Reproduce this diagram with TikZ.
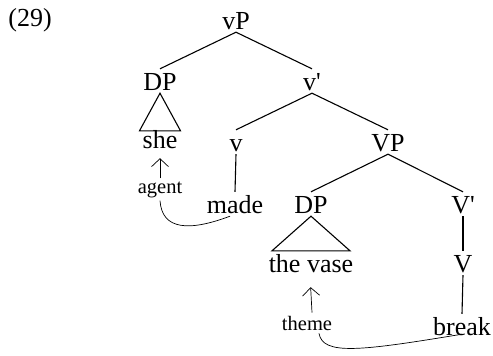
\documentclass[tikz,border=0pt]{standalone}
\usepackage{fontspec}
\setmainfont{Liberation Serif}
\usepackage{tikz}
\usetikzlibrary{calc, arrows.meta}

\tikzset{
  cat/.style={font=\fontsize{26}{30}\selectfont, inner sep=3pt,
              text height=18pt, text depth=0pt, anchor=base},
  role/.style={font=\fontsize{20.5}{24}\selectfont, inner sep=3pt, anchor=base},
  branch/.style={line width=1.1pt},
  link/.style={line width=0.7pt},
  points/.style={link, -{Straight Barb[length=8pt,width=17pt]}}
}

\begin{document}
\begin{tikzpicture}[x=1pt, y=-1pt]
    \useasboundingbox (0,0) rectangle (493,356);

    % tree
    \node[cat] (ex)    at (30,27)   {(29)};
    \node[cat] (vP)    at (236,29)  {vP};
    \node[cat] (DPa)   at (160,90)  {DP};
    \node[cat] (vbar)  at (312,90)  {v\textquotesingle};
    \node[cat] (she)   at (160,148) {she};
    \node[cat] (vhead) at (236,151) {v};
    \node[cat] (VP)    at (388,151) {VP};
    \node[cat] (made)  at (235,213) {made};
    \node[cat] (DPb)   at (311,213) {DP};
    \node[cat] (Vbar)  at (463,213) {V\textquotesingle};
    \node[cat] (vase)  at (311,272) {the vase};
    \node[cat] (Vhead) at (463,272) {V};
    \node[cat] (break) at (462,335) {break};

    % role labels
    \node[role] (agent) at (160,193) {agent};
    \node[role] (theme) at (307,330) {theme};

    \draw[branch] (vP.south) -- (DPa.north);
    \draw[branch] (vP.south) -- (vbar.north);
    \draw[branch] (vbar.south) -- (vhead.north);
    \draw[branch] (vbar.south) -- (VP.north);
    \draw[branch] (vhead.south) -- (made.north);
    \draw[branch] (VP.south) -- (DPb.north);
    \draw[branch] (VP.south) -- (Vbar.north);
    \draw[branch] (Vbar.south) -- (Vhead.north);
    \draw[branch] (Vhead.south) -- (break.north);

    % triangles
    \draw[branch] (DPa.south) -- ($(she.north)+(-20.5,4)$) -- ($(she.north)+(20.5,4)$) -- cycle;
    \draw[branch] (DPb.south) -- ($(vase.north)+(-39,0)$) -- ($(vase.north)+(39,0)$) -- cycle;

    % theta roles
    \draw[points, shorten >=7pt] (agent.north) -- (she.south);
    \draw[points, shorten >=12pt] ([xshift=5pt]theme.north) -- ([xshift=-1pt]vase.south);
    \draw[link] ([xshift=-5pt]made.south) .. controls +(-40,15) and +(2,30) .. (agent.south);
    \draw[link] ([yshift=4pt]break.south) .. controls +(-103,17) and +(4,22) .. ([xshift=12pt]theme.south);
\end{tikzpicture}
\end{document}
